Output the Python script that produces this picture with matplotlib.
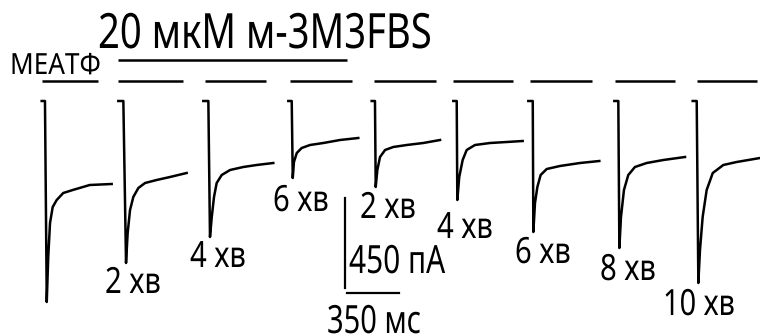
import numpy as np
import matplotlib.pyplot as plt
from matplotlib import patheffects
from matplotlib.transforms import Affine2D

# current traces: time after trace start (ms) and current (pA)
t1 = [0, 22, 34, 44, 56, 74, 101, 145, 209, 323, 471]
i1 = [0, 0, -1005, -780, -610, -530, -495, -460, -445, -420, -415]
t2 = [0, 34, 52, 63, 79, 101, 135, 180, 258, 348, 460]
i2 = [0, 0, -810, -660, -545, -480, -435, -410, -395, -380, -360]
t3 = [0, 34, 45, 57, 72, 90, 124, 180, 269, 359, 471]
i3 = [0, 0, -680, -580, -480, -410, -370, -345, -330, -320, -310]
t4 = [0, 23, 30, 38, 57, 90, 146, 236, 348, 471]
i4 = [0, 0, -385, -305, -260, -235, -220, -210, -195, -185]
t5 = [0, 22, 27, 38, 56, 90, 145, 236, 347, 460]
i5 = [0, 0, -430, -345, -280, -245, -230, -220, -210, -195]
t6 = [0, 23, 27, 40, 63, 90, 146, 247, 359, 467]
i6 = [0, 0, -495, -380, -295, -245, -220, -210, -205, -200]
t7 = [0, 30, 34, 45, 61, 83, 124, 213, 348, 478]
i7 = [0, 0, -655, -510, -430, -370, -340, -325, -310, -300]
t8 = [0, 27, 34, 45, 65, 94, 139, 218, 330, 476]
i8 = [0, 0, -735, -580, -445, -370, -330, -310, -295, -280]
t9 = [0, 27, 38, 49, 67, 94, 135, 206, 296, 453]
i9 = [0, 0, -910, -745, -580, -445, -360, -320, -305, -285]

times = [t1, t2, t3, t4, t5, t6, t7, t8, t9]
currents = [i1, i2, i3, i4, i5, i6, i7, i8, i9]
labels = ["", "2 хв", "4 хв", "6 хв", "2 хв", "4 хв", "6 хв", "8 хв", "10 хв"]

scale_pa = 450
scale_ms = 350

# layout (pixels of the 760x336 picture)
MS_PER_PX = 350 / 52
PA_PER_PX = 5
BASE_PX = 101

def px(x, y):
    return x * MS_PER_PX, (BASE_PX - y) * PA_PER_PX

trace_x = [41.7, 118.3, 203.3, 288.3, 371.7, 453.3, 528.3, 614.3, 692.7]
label_pos = [None, (105, 293), (190, 267), (273, 211), (360, 218),
             (437, 238), (515, 263), (600, 280), (663, 315)]
label_w = [0, 56, 56, 56, 56, 56, 56, 56, 72]
short_bars = [(42, 98), (118, 183), (205, 266), (290, 352), (374, 436),
              (453, 513), (530, 592), (615, 675), (697, 757)]


class Squeeze(patheffects.AbstractPathEffect):
    # narrow the glyphs horizontally around the text's left edge
    def __init__(self, sx):
        super().__init__()
        self.sx = sx

    def draw_path(self, renderer, gc, tpath, affine, rgbFace=None):
        ox = affine.transform((0, 0))[0]
        sq = Affine2D().translate(-ox, 0).scale(self.sx, 1).translate(ox, 0)
        renderer.draw_path(gc, tpath, affine + sq, rgbFace)


plt.rcParams['font.family'] = ['Noto Sans', 'DejaVu Sans']

fig = plt.figure(figsize=(7.6, 3.36), dpi=100)
ax = fig.add_axes([0, 0, 1, 1])
ax.set_xlim(0, 760 * MS_PER_PX)
ax.set_ylim((BASE_PX - 336) * PA_PER_PX, BASE_PX * PA_PER_PX)
ax.axis('off')

texts = []
for k in range(len(times)):
    x0 = trace_x[k] * MS_PER_PX
    ax.plot(np.array(times[k]) + x0, currents[k], c='black', lw=1.8,
            solid_joinstyle='round')
    if labels[k]:
        lx, ly = px(*label_pos[k])
        t = ax.text(lx, ly, labels[k], fontsize=26, va='baseline', ha='left')
        texts.append((t, label_w[k]))

# agonist application bars
for a, b in short_bars:
    xa, y = px(a, 81)
    xb, _ = px(b, 81)
    ax.plot([xa, xb], [y, y], c='black', lw=1.8, solid_capstyle='butt')
xa, y = px(118, 60)
xb, _ = px(347, 60)
ax.plot([xa, xb], [y, y], c='black', lw=1.8, solid_capstyle='butt')

# scale bars
sx, sy = px(345, 288)
ax.plot([sx, sx], [sy, sy + scale_pa], c='black', lw=1.6)
hx, hy = px(347, 293)
ax.plot([hx, hx + scale_ms], [hy, hy], c='black', lw=1.6)
t = ax.text(*px(349, 273), f"{scale_pa} пА", fontsize=28, va='baseline', ha='left')
texts.append((t, 96))
t = ax.text(*px(327, 333), f"{scale_ms} мс", fontsize=28, va='baseline', ha='left')
texts.append((t, 94))

t = ax.text(*px(98, 48), "20 мкМ м-3М3FBS", fontsize=35, va='baseline', ha='left')
texts.append((t, 334))
t = ax.text(*px(10, 74), "МЕАТФ", fontsize=21, va='baseline', ha='left')
texts.append((t, 91))

fig.canvas.draw()
renderer = fig.canvas.get_renderer()
for t, w in texts:
    t.set_path_effects([Squeeze(w / t.get_window_extent(renderer).width)])

fig.savefig("out.png", dpi=100)
